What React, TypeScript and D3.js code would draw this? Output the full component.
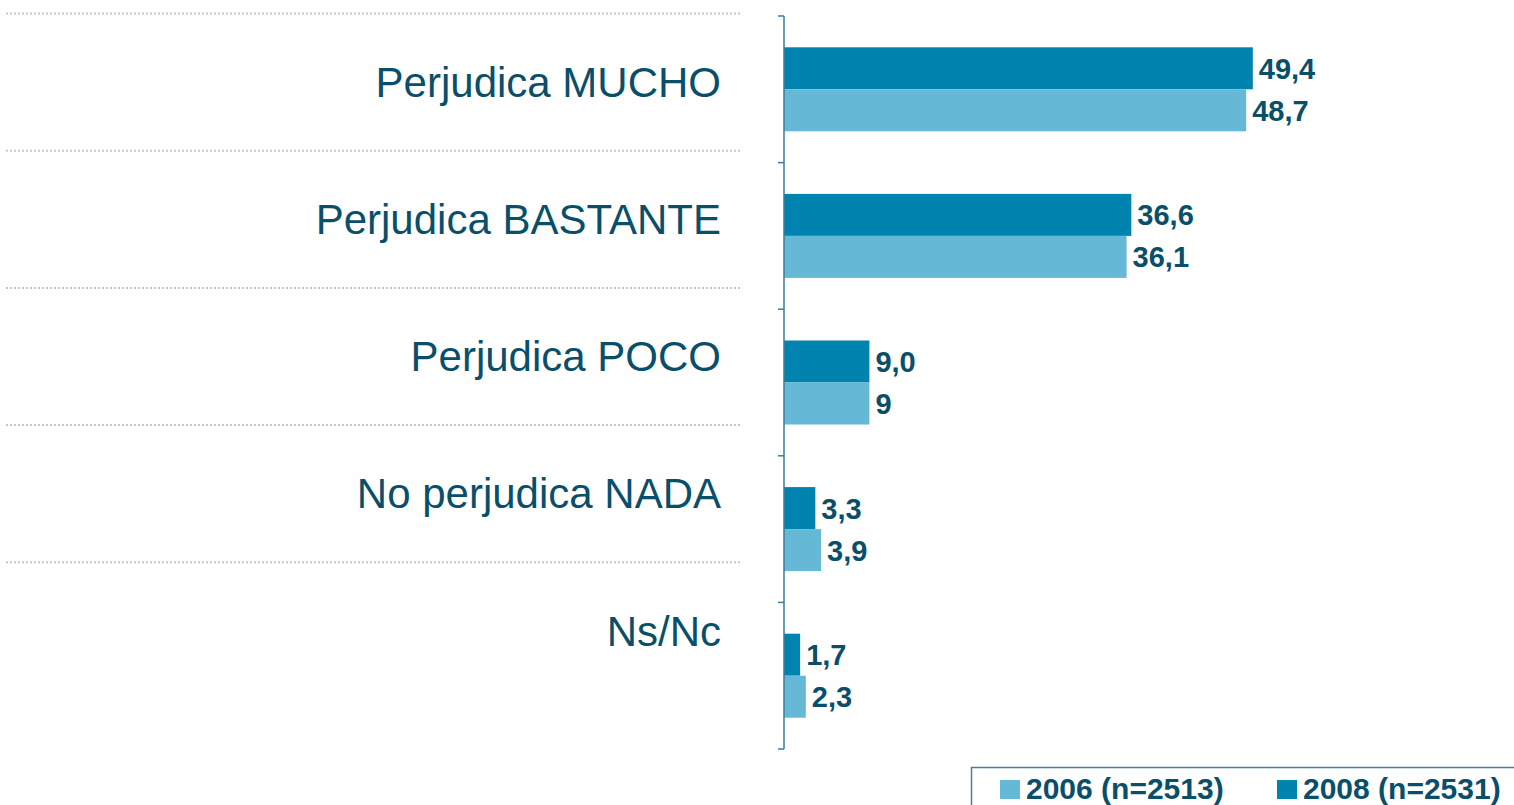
import React, { useEffect, useRef } from 'react';
import * as d3 from 'd3';

const categories = ['Perjudica MUCHO', 'Perjudica BASTANTE', 'Perjudica POCO', 'No perjudica NADA', 'Ns/Nc'];
const values2008 = [49.4, 36.6, 9.0, 3.3, 1.7];
const values2006 = [48.7, 36.1, 9, 3.9, 2.3];
const labels2008 = ['49,4', '36,6', '9,0', '3,3', '1,7'];
const labels2006 = ['48,7', '36,1', '9', '3,9', '2,3'];
const legendItems = [
  { key: '2006', label: '2006 (n=2513)' },
  { key: '2008', label: '2008 (n=2531)' }
];

const colors: Record<string, string> = { '2008': '#0083ae', '2006': '#66b8d7' };
const textColor = '#0a4f6a';
const font = '"Liberation Sans", Arial, sans-serif';

const App = () => {
  const ref = useRef<SVGSVGElement>(null);

  useEffect(() => {
    const svg = d3.select(ref.current);
    svg.selectAll('*').remove();

    const width = 1514;
    const height = 805;
    const axisX = 784;

    // Bars area
    const y = d3.scaleBand().domain(categories).range([16, 749]).padding(0);
    const ySub = d3.scaleBand().domain(['2008', '2006']).range([0, y.step()])
      .paddingInner(0).paddingOuter(0.745);
    const x = d3.scaleLinear().domain([0, 50]).range([axisX, axisX + 50 * 9.49]);

    // Left labels area (its own rows)
    const yLab = d3.scaleBand().domain(categories).range([13, 699]).padding(0);

    // dotted separators
    categories.forEach(c => {
      svg.append('line')
        .attr('x1', 6).attr('x2', 740)
        .attr('y1', yLab(c)! + 0.5).attr('y2', yLab(c)! + 0.5)
        .attr('stroke', '#c8c8c8')
        .attr('stroke-width', 2)
        .attr('stroke-dasharray', '2,2');
    });

    // category labels
    categories.forEach(c => {
      svg.append('text')
        .attr('x', 721)
        .attr('y', yLab(c)! + yLab.bandwidth() / 2)
        .attr('dy', '0.36em')
        .attr('text-anchor', 'end')
        .style('font-family', font)
        .style('font-size', '42px')
        .attr('fill', textColor)
        .text(c);
    });

    // bars
    const series = [
      { key: '2008', values: values2008, labels: labels2008 },
      { key: '2006', values: values2006, labels: labels2006 }
    ];
    series.forEach(s => {
      categories.forEach((c, i) => {
        const top = y(c)! + ySub(s.key)!;
        svg.append('rect')
          .attr('x', x(0))
          .attr('y', top)
          .attr('width', x(s.values[i]) - x(0))
          .attr('height', ySub.bandwidth())
          .attr('fill', colors[s.key]);
        svg.append('text')
          .attr('x', x(s.values[i]) + 6)
          .attr('y', top + ySub.bandwidth() / 2)
          .attr('dy', '0.36em')
          .style('font-family', font)
          .style('font-size', '29px')
          .style('font-weight', 'bold')
          .attr('fill', textColor)
          .text(s.labels[i]);
      });
    });

    // axis
    const axisColor = '#3d7d99';
    svg.append('line')
      .attr('x1', axisX).attr('x2', axisX)
      .attr('y1', 16).attr('y2', 749)
      .attr('stroke', axisColor).attr('stroke-width', 1.5);
    const ticks = categories.map(c => y(c)!).concat([749]);
    ticks.forEach(t => {
      svg.append('line')
        .attr('x1', axisX - 6).attr('x2', axisX)
        .attr('y1', t).attr('y2', t)
        .attr('stroke', axisColor).attr('stroke-width', 1.5);
    });

    // legend
    svg.append('rect')
      .attr('x', 971.5).attr('y', 767.5)
      .attr('width', 600).attr('height', 80)
      .attr('fill', 'white')
      .attr('stroke', '#4a7f99')
      .attr('stroke-width', 1.5);
    const legendX = [1000, 1277];
    legendItems.forEach((item, i) => {
      svg.append('rect')
        .attr('x', legendX[i]).attr('y', 780)
        .attr('width', 20).attr('height', 19)
        .attr('fill', colors[item.key]);
      svg.append('text')
        .attr('x', legendX[i] + 26)
        .attr('y', 799)
        .style('font-family', font)
        .style('font-size', '30px')
        .style('font-weight', 'bold')
        .attr('fill', textColor)
        .text(item.label);
    });

    svg.attr('width', width).attr('height', height);
  }, []);

  return (
    <svg
      ref={ref}
      width={1514}
      height={805}
      style={{ position: 'absolute', left: 0, top: 0, background: 'white', display: 'block' }}
    />
  );
};

export default App;
